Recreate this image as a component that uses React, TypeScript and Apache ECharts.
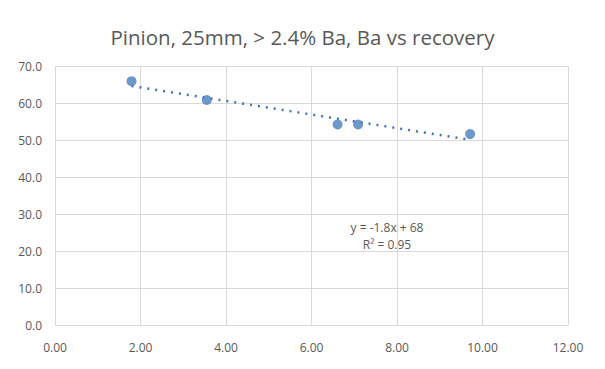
import React, { useEffect, useRef } from "react";
import * as echarts from "echarts";

const titleText = "Pinion, 25mm, > 2.4% Ba, Ba vs recovery";
const baValues = [1.79, 3.55, 6.61, 7.09, 9.71];
const recoveryValues = [65.9, 60.8, 54.2, 54.2, 51.6];
const equationLines = ["y = -1.8x + 68", "R² = 0.95"];

function regression(xs: number[], ys: number[]) {
  const n = xs.length;
  const mx = xs.reduce((a, b) => a + b, 0) / n;
  const my = ys.reduce((a, b) => a + b, 0) / n;
  let sxy = 0, sxx = 0;
  for (let i = 0; i < n; i++) {
    sxy += (xs[i] - mx) * (ys[i] - my);
    sxx += (xs[i] - mx) ** 2;
  }
  const slope = sxy / sxx;
  return { slope, intercept: my - slope * mx };
}

export default function App() {
  const ref = useRef<HTMLDivElement>(null);
  useEffect(() => {
    if (!ref.current) return;
    const chart = echarts.init(ref.current, null, { renderer: "svg" });
    const { slope, intercept } = regression(baValues, recoveryValues);
    const xMin = Math.min(...baValues);
    const xMax = Math.max(...baValues);
    const trend = [
      [xMin, slope * xMin + intercept],
      [xMax, slope * xMax + intercept],
    ];
    const font = "'Open Sans', 'Noto Sans', sans-serif";
    chart.setOption({
      animation: false,
      title: {
        text: titleText,
        left: "center",
        top: 21,
        textStyle: { fontFamily: font, fontSize: 20.5, fontWeight: "normal", color: "#595959" },
      },
      grid: { left: 55, right: 37, top: 66, bottom: 44 },
      xAxis: {
        type: "value",
        min: 0,
        max: 12,
        interval: 2,
        axisLine: { show: false },
        axisTick: { show: false },
        splitLine: { show: true, lineStyle: { color: "#d9d9d9", width: 1 } },
        axisLabel: {
          formatter: (v: number) => v.toFixed(2),
          color: "#595959",
          fontFamily: font,
          fontSize: 12,
          margin: 16,
        },
      },
      yAxis: {
        type: "value",
        min: 0,
        max: 70,
        interval: 10,
        axisLine: { show: false },
        axisTick: { show: false },
        splitLine: { show: true, lineStyle: { color: "#d9d9d9", width: 1 } },
        axisLabel: {
          formatter: (v: number) => v.toFixed(1),
          color: "#595959",
          fontFamily: font,
          fontSize: 12,
          margin: 13,
        },
      },
      graphic: [
        {
          type: "line",
          z: 100,
          shape: { x1: 4, y1: 4, x2: 601, y2: 4 },
          style: { stroke: "#c8c8c8", lineWidth: 1.5 },
          silent: true,
        },
        {
          type: "line",
          z: 100,
          shape: { x1: 4, y1: 365, x2: 601, y2: 365 },
          style: { stroke: "#c8c8c8", lineWidth: 1.5 },
          silent: true,
        },
        {
          type: "line",
          z: 100,
          shape: { x1: 4, y1: 4, x2: 4, y2: 365 },
          style: { stroke: "#c8c8c8", lineWidth: 1.5 },
          silent: true,
        },
        {
          type: "line",
          z: 100,
          shape: { x1: 601, y1: 4, x2: 601, y2: 365 },
          style: { stroke: "#c8c8c8", lineWidth: 1.5 },
          silent: true,
        },
        {
          type: "text",
          x: 387,
          y: 221,
          style: {
            text: equationLines[0],
            fontFamily: font,
            fontSize: 12,
            fill: "#595959",
            textAlign: "center",
          },
        },
        {
          type: "text",
          x: 387,
          y: 238,
          style: {
            text: equationLines[1],
            fontFamily: font,
            fontSize: 12,
            fill: "#595959",
            textAlign: "center",
          },
        },
      ],
      series: [
        {
          type: "line",
          data: trend,
          symbol: "none",
          lineStyle: { color: "#4472c4", width: 2.5, type: [2, 6] },
          z: 1,
        },
        {
          type: "scatter",
          data: baValues.map((x, i) => [x, recoveryValues[i]]),
          symbol: "circle",
          symbolSize: 10,
          itemStyle: { color: "#4a7ebb" },
          z: 2,
        },
      ],
    });
    return () => chart.dispose();
  }, []);
  return <div ref={ref} style={{ width: 605, height: 369, margin: -8, background: "#fff" }} />;
}
